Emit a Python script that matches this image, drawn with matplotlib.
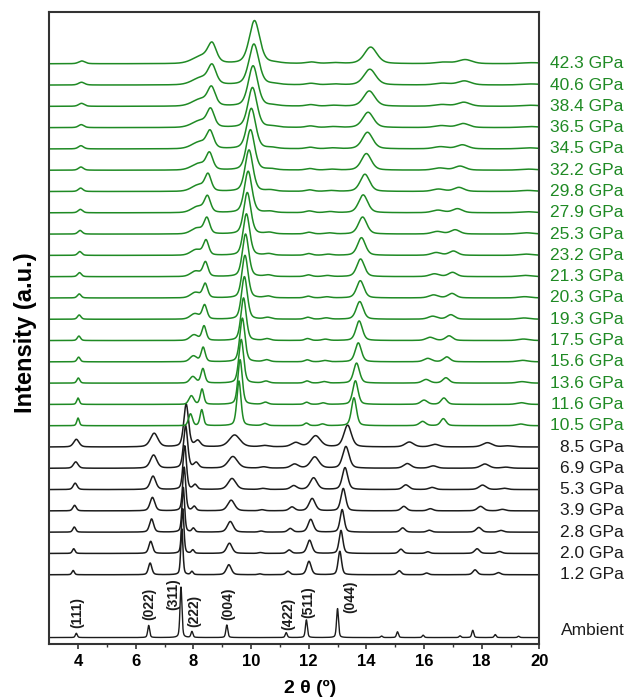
import numpy as np
import matplotlib.pyplot as plt
import matplotlib.transforms as mtransforms

plt.rcParams['font.family'] = ['Liberation Sans', 'DejaVu Sans']

# 2-theta grid for the calculated profiles
two_theta = np.linspace(3, 20, 3401)

# -----------------------------
# Ambient pattern
# -----------------------------
amb_pos = [3.94, 6.45, 7.57, 7.95, 9.16, 11.22, 11.92, 13.00, 14.53, 15.08, 15.97, 17.25, 17.69, 18.47, 19.28]
amb_height = [0.20, 0.57, 2.37, 0.28, 0.59, 0.23, 0.83, 1.36, 0.07, 0.27, 0.11, 0.08, 0.34, 0.14, 0.06]
amb_fwhm = 0.08

hkl_labels = ["(111)", "(022)", "(311)", "(222)", "(004)", "(422)", "(511)", "(044)"]
hkl_x = [3.97, 6.46, 7.30, 8.02, 9.20, 11.28, 11.98, 13.43]
hkl_y = [0.44, 0.81, 1.28, 0.48, 0.81, 0.34, 0.91, 1.14]

# -----------------------------
# Low pressure phase (black)
# -----------------------------
lp_pressure = [1.2, 2.0, 2.8, 3.9, 5.3, 6.9, 8.5]
lp_fwhm = [0.10, 0.11, 0.12, 0.14, 0.16, 0.19, 0.22]

lp_111 = [3.83, 3.85, 3.87, 3.88, 3.90, 3.92, 3.94]
lp_111_h = [0.20, 0.22, 0.24, 0.26, 0.30, 0.30, 0.36]
lp_022 = [6.50, 6.52, 6.55, 6.58, 6.60, 6.62, 6.64]
lp_022_h = [0.55, 0.57, 0.62, 0.63, 0.63, 0.62, 0.64]
lp_311 = [7.60, 7.63, 7.65, 7.68, 7.70, 7.73, 7.75]
lp_311_h = [2.15, 2.10, 2.10, 2.05, 2.05, 2.00, 2.00]
lp_222 = [7.95, 7.98, 8.00, 8.03, 8.06, 8.10, 8.15]
lp_222_h = [0.15, 0.16, 0.18, 0.20, 0.22, 0.25, 0.28]
lp_004 = [9.23, 9.25, 9.28, 9.31, 9.34, 9.37, 9.43]
lp_004_h = [0.47, 0.48, 0.50, 0.50, 0.52, 0.55, 0.56]
lp_104 = [10.30, 10.32, 10.35, 10.38, 10.41, 10.44, 10.47]
lp_104_h = [0.04, 0.04, 0.05, 0.05, 0.05, 0.06, 0.06]
lp_422 = [11.28, 11.32, 11.36, 11.42, 11.48, 11.51, 11.55]
lp_422_h = [0.16, 0.16, 0.17, 0.18, 0.18, 0.19, 0.20]
lp_511 = [12.01, 12.03, 12.07, 12.12, 12.17, 12.21, 12.24]
lp_511_h = [0.63, 0.62, 0.60, 0.58, 0.55, 0.53, 0.52]
lp_044 = [13.08, 13.12, 13.16, 13.20, 13.26, 13.29, 13.35]
lp_044_h = [1.10, 1.08, 1.06, 1.05, 1.03, 1.02, 1.02]
lp_152 = [15.14, 15.20, 15.26, 15.30, 15.37, 15.42, 15.49]
lp_152_h = [0.19, 0.20, 0.20, 0.21, 0.22, 0.22, 0.23]
lp_161 = [16.09, 16.13, 16.18, 16.22, 16.28, 16.32, 16.38]
lp_161_h = [0.08, 0.08, 0.09, 0.10, 0.10, 0.11, 0.12]
lp_178 = [17.77, 17.84, 17.90, 17.96, 18.03, 18.11, 18.20]
lp_178_h = [0.23, 0.22, 0.22, 0.21, 0.21, 0.20, 0.20]
lp_186 = [18.58, 18.62, 18.67, 18.72, 18.78, 18.84, 18.90]
lp_186_h = [0.10, 0.09, 0.08, 0.07, 0.06, 0.05, 0.05]

# -----------------------------
# High pressure phase (green)
# -----------------------------
hp_pressure = [10.5, 11.6, 13.6, 15.6, 17.5, 19.3, 20.3, 21.3, 23.2,
               25.3, 27.9, 29.8, 32.2, 34.5, 36.5, 38.4, 40.6, 42.3]
hp_fwhm = [0.17, 0.18, 0.20, 0.21, 0.22, 0.24, 0.25, 0.26, 0.27,
           0.29, 0.31, 0.32, 0.34, 0.36, 0.37, 0.39, 0.41, 0.43]

hp_a = [4.00, 4.00, 4.01, 4.02, 4.03, 4.04, 4.04, 4.05, 4.06, 4.07, 4.08, 4.09, 4.10, 4.10, 4.11, 4.12, 4.12, 4.13]
hp_a_h = [0.36, 0.30, 0.24, 0.22, 0.21, 0.20, 0.19, 0.19, 0.18, 0.17, 0.16, 0.16, 0.15, 0.15, 0.14, 0.14, 0.13, 0.13]
hp_b = [7.90, 7.93, 7.98, 8.00, 8.02, 8.05, 8.07, 8.08, 8.10, 8.13, 8.16, 8.18, 8.20, 8.22, 8.24, 8.26, 8.28, 8.30]
hp_b_h = [0.55, 0.40, 0.30, 0.27, 0.26, 0.25, 0.25, 0.25, 0.26, 0.27, 0.28, 0.29, 0.30, 0.31, 0.31, 0.32, 0.33, 0.34]
hp_b_w = [0.16, 0.20, 0.24, 0.28, 0.32, 0.36, 0.38, 0.40, 0.44, 0.48, 0.52, 0.56, 0.60, 0.63, 0.66, 0.69, 0.72, 0.75]
hp_c = [8.29, 8.30, 8.33, 8.34, 8.37, 8.39, 8.41, 8.42, 8.44, 8.47, 8.49, 8.51, 8.56, 8.58, 8.60, 8.63, 8.65, 8.65]
hp_c_h = [0.75, 0.72, 0.68, 0.68, 0.68, 0.66, 0.66, 0.67, 0.68, 0.72, 0.72, 0.74, 0.74, 0.76, 0.78, 0.80, 0.82, 0.82]
hp_d = [9.58, 9.62, 9.66, 9.70, 9.74, 9.77, 9.79, 9.81, 9.84, 9.87, 9.90, 9.93, 9.98, 10.01, 10.05, 10.07, 10.10, 10.12]
hp_d_h = [2.10, 2.10, 2.05, 2.05, 2.00, 2.00, 2.00, 2.00, 1.95, 1.95, 1.95, 1.95, 1.90, 1.90, 1.88, 1.90, 1.92, 2.02]
hp_e = [10.48, 10.50, 10.52, 10.54, 10.56, 10.58, 10.59, 10.60, 10.62, 10.64, 10.66, 10.68, 10.70, 10.72, 10.74, 10.76, 10.78, 10.80]
hp_e_h = [0.10, 0.10, 0.09, 0.09, 0.08, 0.08, 0.08, 0.07, 0.07, 0.07, 0.06, 0.06, 0.05, 0.05, 0.05, 0.04, 0.04, 0.04]
hp_f = [11.92, 11.93, 11.94, 11.95, 11.96, 11.97, 11.98, 11.99, 12.00, 12.01, 12.02, 12.03, 12.04, 12.05, 12.06, 12.07, 12.08, 12.09]
hp_f_h = [0.12, 0.10, 0.10, 0.09, 0.09, 0.09, 0.08, 0.08, 0.08, 0.08, 0.08, 0.07, 0.07, 0.07, 0.07, 0.07, 0.07, 0.07]
hp_g = [12.48, 12.50, 12.53, 12.56, 12.58, 12.61, 12.63, 12.65, 12.68, 12.71, 12.74, 12.77, 12.80, 12.83, 12.85, 12.87, 12.89, 12.90]
hp_g_h = [0.08, 0.07, 0.07, 0.06, 0.06, 0.06, 0.05, 0.05, 0.05, 0.05, 0.05, 0.04, 0.04, 0.04, 0.04, 0.04, 0.04, 0.04]
hp_h = [13.57, 13.62, 13.66, 13.72, 13.75, 13.77, 13.79, 13.80, 13.83, 13.87, 13.89, 13.95, 14.00, 14.04, 14.06, 14.10, 14.12, 14.15]
hp_h_h = [1.31, 1.11, 0.94, 0.89, 0.92, 0.83, 0.81, 0.83, 0.83, 0.80, 0.84, 0.81, 0.78, 0.78, 0.72, 0.72, 0.74, 0.78]
hp_i = [15.95, 16.00, 16.07, 16.13, 16.21, 16.30, 16.33, 16.36, 16.42, 16.46, 16.48, 16.50, 16.54, 16.57, 16.60, 16.62, 16.64, 16.67]
hp_i_h = [0.20, 0.20, 0.17, 0.16, 0.15, 0.14, 0.14, 0.13, 0.13, 0.12, 0.12, 0.11, 0.10, 0.10, 0.09, 0.08, 0.08, 0.07]
hp_j = [16.67, 16.69, 16.76, 16.79, 16.87, 16.93, 16.97, 16.99, 17.02, 17.08, 17.16, 17.21, 17.25, 17.33, 17.36, 17.38, 17.40, 17.43]
hp_j_h = [0.33, 0.30, 0.25, 0.23, 0.22, 0.21, 0.21, 0.20, 0.20, 0.20, 0.19, 0.19, 0.19, 0.19, 0.19, 0.19, 0.19, 0.19]
hp_k = [19.35, 19.37, 19.40, 19.42, 19.45, 19.47, 19.49, 19.50, 19.53, 19.55, 19.58, 19.60, 19.63, 19.65, 19.68, 19.70, 19.72, 19.75]
hp_k_h = [0.08, 0.08, 0.07, 0.07, 0.07, 0.06, 0.06, 0.06, 0.06, 0.06, 0.05, 0.05, 0.05, 0.05, 0.05, 0.05, 0.05, 0.05]

green = "#1f8a24"
black = "#1c1c1c"


def pv(x, x0, h, fwhm, eta=0.4):
    # pseudo-Voigt line shape
    g = np.exp(-4 * np.log(2) * ((x - x0) / fwhm) ** 2)
    l = 1.0 / (1.0 + 4 * ((x - x0) / fwhm) ** 2)
    return h * (eta * l + (1 - eta) * g)


fig = plt.figure(figsize=(6.27, 7.0), dpi=100)
ax = fig.add_axes([0.0785, 0.0807, 0.7817, 0.9021])

lab_tr = mtransforms.blended_transform_factory(ax.transAxes, ax.transData)

# ambient
y = np.zeros_like(two_theta)
for p, h in zip(amb_pos, amb_height):
    y += pv(two_theta, p, h, amb_fwhm)
ax.plot(two_theta, y, color=black, lw=1.0)
ax.text(1.174, 0.33, "Ambient", transform=lab_tr, ha="right", va="center",
        fontsize=12.5, color=black, clip_on=False)
for lab, lx, ly in zip(hkl_labels, hkl_x, hkl_y):
    ax.text(lx, ly, lab, rotation=90, ha="center", va="bottom",
            fontsize=10, fontweight="bold", color=black)

# low pressure traces
lp_peaks = [(lp_111, lp_111_h, 1.0), (lp_022, lp_022_h, 1.4), (lp_311, lp_311_h, 0.9),
            (lp_222, lp_222_h, 1.0), (lp_004, lp_004_h, 2.0), (lp_104, lp_104_h, 1.5),
            (lp_422, lp_422_h, 1.6), (lp_511, lp_511_h, 1.8), (lp_044, lp_044_h, 1.4),
            (lp_152, lp_152_h, 1.6), (lp_161, lp_161_h, 1.6), (lp_178, lp_178_h, 1.8),
            (lp_186, lp_186_h, 1.8)]
for i, pres in enumerate(lp_pressure):
    off = 2.95 + i
    y = np.zeros_like(two_theta)
    for pos, hts, wf in lp_peaks:
        y += pv(two_theta, pos[i], hts[i], lp_fwhm[i] * wf)
    ax.plot(two_theta, y + off, color=black, lw=1.1)
    ax.text(1.172, off, f"{pres:.1f} GPa", transform=lab_tr, ha="right", va="center",
            fontsize=12.5, color=black, clip_on=False)

# high pressure traces
hp_peaks = [(hp_a, hp_a_h, 0.6), (hp_c, hp_c_h, 0.8), (hp_d, hp_d_h, 1.0),
            (hp_e, hp_e_h, 1.2), (hp_f, hp_f_h, 1.0), (hp_g, hp_g_h, 1.2),
            (hp_h, hp_h_h, 1.2), (hp_i, hp_i_h, 1.5), (hp_j, hp_j_h, 1.3),
            (hp_k, hp_k_h, 2.0)]
for j, pres in enumerate(hp_pressure):
    off = 2.95 + len(lp_pressure) + j
    y = pv(two_theta, hp_b[j], hp_b_h[j], hp_b_w[j], eta=0.2)
    for pos, hts, wf in hp_peaks:
        y += pv(two_theta, pos[j], hts[j], hp_fwhm[j] * wf)
    ax.plot(two_theta, y + off, color=green, lw=1.1)
    ax.text(1.172, off, f"{pres:.1f} GPa", transform=lab_tr, ha="right", va="center",
            fontsize=12.5, color=green, clip_on=False)

ax.set_xlim(3, 20)
ax.set_ylim(-0.28, 29.38)
ax.set_xticks(np.arange(4, 21, 2))
ax.set_xticks(np.arange(5, 20, 2), minor=True)
ax.set_yticks([])
ax.tick_params(axis="x", which="major", direction="out", length=3.8, width=1.2,
               labelsize=12, colors="#333333", labelcolor="black")
ax.tick_params(axis="x", which="minor", direction="out", length=2.2, width=1.0,
               colors="#333333")
for lbl in ax.get_xticklabels():
    lbl.set_fontweight("bold")
for sp in ax.spines.values():
    sp.set_linewidth(1.5)
    sp.set_color("#333333")

fig.text(310 / 627, 1 - 688 / 700, "2 θ (º)", ha="center", va="center",
         fontsize=14, fontweight="bold")
fig.text(26 / 627, 1 - 333 / 700, "Intensity (a.u.)", ha="center", va="center",
         rotation=90, fontsize=17, fontweight="bold")

fig.savefig("out.png", dpi=100)
